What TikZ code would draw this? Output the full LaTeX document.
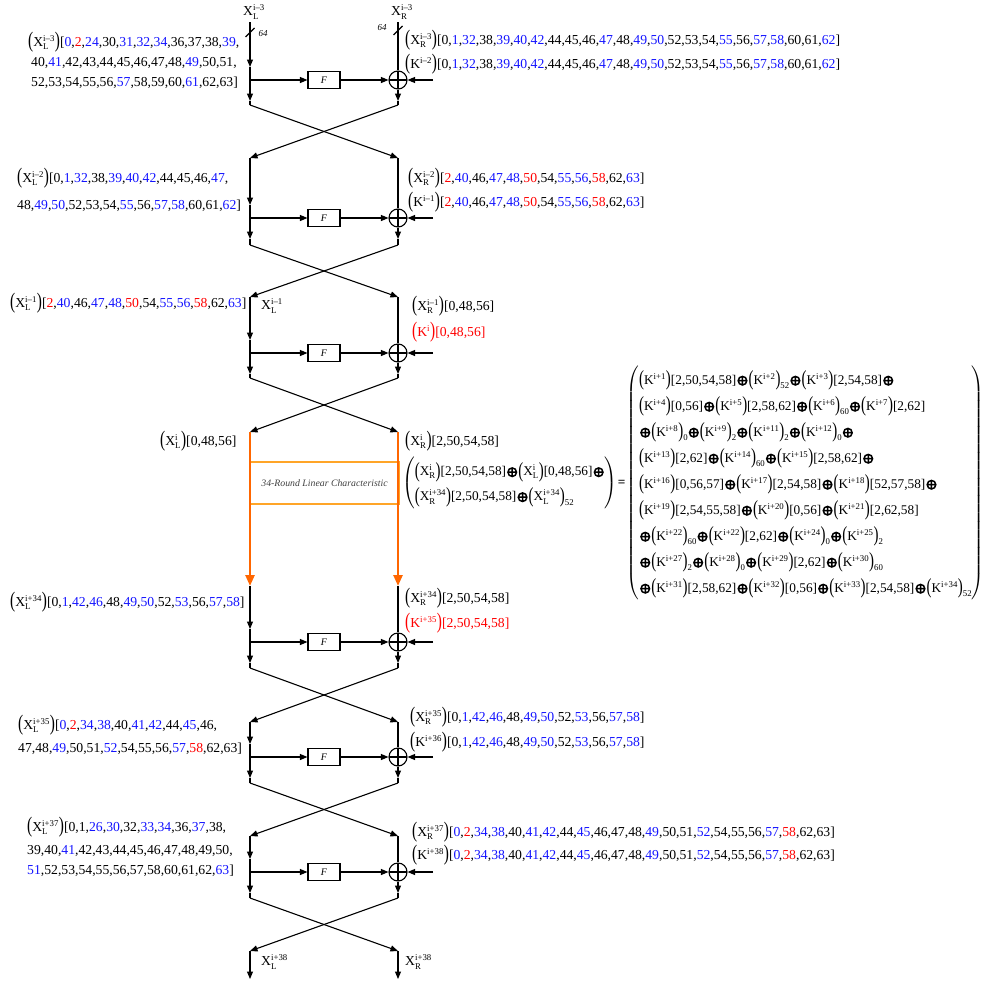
\documentclass[tikz,border=0pt]{standalone}
\usepackage{fix-cm}
\usepackage{amsmath}
\usepackage{fontspec}
\setmainfont{Liberation Serif}
\usetikzlibrary{arrows.meta}
\definecolor{cb}{RGB}{20,20,255}
\definecolor{cr}{RGB}{255,0,0}
\definecolor{cor}{RGB}{255,102,0}
\definecolor{cbx}{RGB}{255,165,40}
\newcommand\B[1]{{\color{cb}#1}}
\newcommand\R[1]{{\color{cr}#1}}
\newcommand\sz{\fontsize{8.8}{9}\selectfont}
\newcommand\lp{\raisebox{-1.3pt}{\scalebox{1.12}[1.62]{(}}}
\newcommand\rp{\raisebox{-1.3pt}{\scalebox{1.12}[1.62]{)}}}
\newcommand\SX[3]{#1$^{\text{\sz #3}}_{\text{\sz #2}}$}
\newcommand\tX[3]{\lp\SX{#1}{#2}{#3}\rp}
\newcommand\tXs[4]{\tX{#1}{#2}{#3}\raisebox{-4.5pt}{\sz #4}}
\newcommand\tK[1]{\lp K$^{\text{\sz #1}}$\rp}
\newcommand\tKs[2]{\tK{#1}\raisebox{-4.5pt}{\sz #2}}
\newcommand\op{\kern1.1pt\tikz[baseline=-3.5pt]\draw[line width=1.5pt](0pt,0pt) circle[radius=4.3pt] (-4.3pt,0pt)--(4.3pt,0pt) (0pt,-4.3pt)--(0pt,4.3pt);\kern1.1pt}
\newcommand\lstA{0,\B{1},\B{32},38,\B{39},\B{40},\B{42},44,45,46,\B{47},48,\B{49},\B{50},52,53,54,\B{55},56,\B{57},\B{58},60,61,\B{62}}
\newcommand\lstB{\R{2},\B{40},46,\B{47},\B{48},\R{50},54,\B{55},\B{56},\R{58},62,\B{63}}
\newcommand\lstC{0,\B{1},\B{42},\B{46},48,\B{49},\B{50},52,\B{53},56,\B{57},\B{58}}
\newcommand\lstD{\B{0},\R{2},\B{34},\B{38},40,\B{41},\B{42},44,\B{45},46,47,48,\B{49},50,51,\B{52},54,55,56,\B{57},\R{58},62,63}
\begin{document}
\begin{tikzpicture}[x=1pt,y=-1pt,font=\fontsize{13.7}{16}\selectfont,
  ln/.style={line width=1.1pt},
  arr/.style={-{Triangle[length=7.5pt,width=6pt]}},
  oln/.style={line width=2.4pt,draw=cor},
  oarr/.style={-{Triangle[length=11pt,width=9pt]}},
  fbox/.style={draw,line width=1.1pt,minimum width=32pt,minimum height=17pt,inner sep=0pt,font=\fontsize{10}{12}\selectfont\itshape},
  xorc/.style={draw,circle,line width=1.1pt,minimum size=18pt,inner sep=0pt,
    path picture={\draw[line width=1.1pt] (path picture bounding box.north)--(path picture bounding box.south)
      (path picture bounding box.west)--(path picture bounding box.east);}},
  tl/.style={anchor=base west,inner sep=0pt},
  lab/.style={inner sep=0pt},
  nb/.style={font=\fontsize{9}{10}\selectfont\itshape,inner sep=0pt}]
\useasboundingbox (0,0) rectangle (990,980);

% Feistel rounds
\foreach \r/\yt/\yF/\yc/\ye in {1/22/80/105/158,2/158/218/245/297,3/297/353/378/432,4/586/642/668/722,5/722/757/783/836,6/836/872/898/951}{
  \coordinate (LT\r) at (250,\yt);
  \coordinate (RT\r) at (398,\yt);
  \coordinate (LA\r) at (250,\yF-13);
  \coordinate (LS\r) at (250,\yF);
  \coordinate (LB\r) at (250,\yF+21);
  \coordinate (LC\r) at (250,\yc);
  \coordinate (RB\r) at (398,\yF+21);
  \coordinate (RC\r) at (398,\yc);
  \coordinate (LE\r) at (250,\ye);
  \coordinate (RE\r) at (398,\ye);
  \coordinate (K\r) at (433,\yF);
  \node[fbox] (F\r) at (324,\yF) {F};
  \node[xorc] (X\r) at (398,\yF) {};
  \draw[ln,arr] (LT\r) -- (LA\r);
  \draw[ln] (LA\r) -- (LS\r);
  \draw[ln,arr] (LS\r) -- (LB\r);
  \draw[ln] (LB\r) -- (LC\r);
  \draw[ln,arr] (LS\r) -- (F\r);
  \draw[ln,arr] (F\r) -- (X\r);
  \draw[ln,arr] (K\r) -- (X\r);
  \draw[ln] (RT\r) -- (X\r);
  \draw[ln,arr] (X\r) -- (RB\r);
  \draw[ln] (RB\r) -- (RC\r);
  \draw[ln,arr] (LC\r) -- (RE\r);
  \draw[ln,arr] (RC\r) -- (LE\r);
}

% top labels and width marks
\node[lab] (xl0) at (254,12) {\SX{X}{L}{i--3}};
\node[lab] (xr0) at (402,12) {\SX{X}{R}{i--3}};
\draw[ln] (245.5,37) -- (254.5,28);
\draw[ln] (393.5,35) -- (402.5,26);
\node[nb] (w1) at (263,34) {64};
\node[nb] (w2) at (382,28) {64};

% 34-round linear characteristic
\node[draw=cbx,line width=1.3pt,minimum width=149pt,minimum height=42pt,inner sep=0pt,
  font=\fontsize{9.8}{11}\selectfont\itshape,text=black!75] (lc) at (324.5,483) {34-Round Linear Characteristic};
\draw[oln,oarr] (LE3) -- (LT4);
\draw[oln,oarr] (RE3) -- (RT4);

% bottom outputs
\coordinate (LZ) at (250,979);
\coordinate (RZ) at (398,979);
\draw[ln,arr] (LE6) -- (LZ);
\draw[ln,arr] (RE6) -- (RZ);
\node[lab,anchor=west] (n1) at (261,962) {\SX{X}{L}{i+38}};
\node[lab,anchor=west] (n2) at (405,962) {\SX{X}{R}{i+38}};

% round 1 texts
\node[tl] (a1) at (28,46) {\tX{X}{L}{i--3}[\B{0},\R{2},\B{24},30,\B{31},\B{32},\B{34},36,37,38,\B{39},};
\node[tl] (a2) at (31,66) {40,\B{41},42,43,44,45,46,47,48,\B{49},50,51,};
\node[tl] (a3) at (31,86) {52,53,54,55,56,\B{57},58,59,60,\B{61},62,63]};
\node[tl] (b1) at (405,44.5) {\tX{X}{R}{i--3}[\lstA]};
\node[tl] (b2) at (405,68) {\tK{i--2}[\lstA]};

% round 2 texts
\node[tl] (c1) at (17,182) {\tX{X}{L}{i--2}[0,\B{1},\B{32},38,\B{39},\B{40},\B{42},44,45,46,\B{47},};
\node[tl] (c2) at (17,209) {48,\B{49},\B{50},52,53,54,\B{55},56,\B{57},\B{58},60,61,\B{62}]};
\node[tl] (d1) at (408,182) {\tX{X}{R}{i--2}[\lstB]};
\node[tl] (d2) at (408,206) {\tK{i--1}[\lstB]};

% round 3 texts
\node[tl] (e1) at (10,307) {\tX{X}{L}{i--1}[\lstB]};
\node[lab,anchor=west] (e2) at (261,306) {\SX{X}{L}{i--1}};
\node[tl] (f1) at (412,310) {\tX{X}{R}{i--1}[0,48,56]};
\node[tl] (f2) at (412,336) {\R{\tK{i}[0,48,56]}};

% linear characteristic texts
\node[tl] (g1) at (160,445) {\tX{X}{L}{i}[0,48,56]};
\node[tl] (g2) at (405,445) {\tX{X}{R}{i}[2,50,54,58]};
\node[anchor=west,inner sep=0pt,font=\fontsize{13.3}{26}\selectfont] (eq) at (402,483) {$\left(\begin{tabular}{@{}l@{}}
\tX{X}{R}{i}[2,50,54,58]\op\tX{X}{L}{i}[0,48,56]\op\\[-1pt]
\tX{X}{R}{i+34}[2,50,54,58]\op\tXs{X}{L}{i+34}{52}
\end{tabular}\right)$\kern0.5pt\textbf{=}\kern1pt$\left(\begin{tabular}{@{}l@{}}
\tK{i+1}[2,50,54,58]\op\tKs{i+2}{52}\op\tK{i+3}[2,54,58]\op\\
\tK{i+4}[0,56]\op\tK{i+5}[2,58,62]\op\tKs{i+6}{60}\op\tK{i+7}[2,62]\\
\op\tKs{i+8}{0}\op\tKs{i+9}{2}\op\tKs{i+11}{2}\op\tKs{i+12}{0}\op\\
\tK{i+13}[2,62]\op\tKs{i+14}{60}\op\tK{i+15}[2,58,62]\op\\
\tK{i+16}[0,56,57]\op\tK{i+17}[2,54,58]\op\tK{i+18}[52,57,58]\op\\
\tK{i+19}[2,54,55,58]\op\tK{i+20}[0,56]\op\tK{i+21}[2,62,58]\\
\op\tKs{i+22}{60}\op\tK{i+22}[2,62]\op\tKs{i+24}{0}\op\tKs{i+25}{2}\\
\op\tKs{i+27}{2}\op\tKs{i+28}{0}\op\tK{i+29}[2,62]\op\tKs{i+30}{60}\\
\op\tK{i+31}[2,58,62]\op\tK{i+32}[0,56]\op\tK{i+33}[2,54,58]\op\tKs{i+34}{52}
\end{tabular}\right)$};

% round 4 texts
\node[tl] (h1) at (10,606) {\tX{X}{L}{i+34}[\lstC]};
\node[tl] (i1) at (405,602) {\tX{X}{R}{i+34}[2,50,54,58]};
\node[tl] (i2) at (405,627) {\R{\tK{i+35}[2,50,54,58]}};

% round 5 texts
\node[tl] (j1) at (18,729) {\tX{X}{L}{i+35}[\B{0},\R{2},\B{34},\B{38},40,\B{41},\B{42},44,\B{45},46,};
\node[tl] (j2) at (18,752) {47,48,\B{49},50,51,\B{52},54,55,56,\B{57},\R{58},62,63]};
\node[tl] (k1) at (410,721) {\tX{X}{R}{i+35}[\lstC]};
\node[tl] (k2) at (410,746) {\tK{i+36}[\lstC]};

% round 6 texts
\node[tl] (l1) at (27,831) {\tX{X}{L}{i+37}[0,1,\B{26},\B{30},32,\B{33},\B{34},36,\B{37},38,};
\node[tl] (l2) at (27,854) {39,40,\B{41},42,43,44,45,46,47,48,49,50,};
\node[tl] (l3) at (27,874) {\B{51},52,53,54,55,56,57,58,60,61,62,\B{63}]};
\node[tl] (m1) at (412,836) {\tX{X}{R}{i+37}[\lstD]};
\node[tl] (m2) at (412,859) {\tK{i+38}[\lstD]};
\end{tikzpicture}
\end{document}
